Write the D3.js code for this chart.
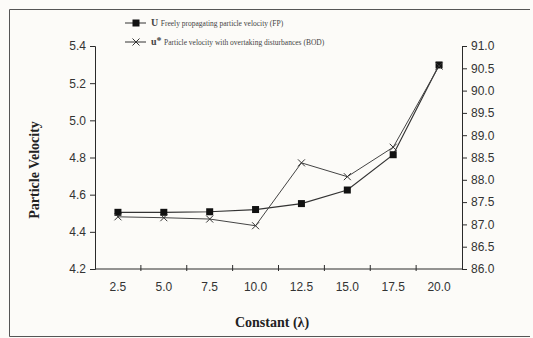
<!DOCTYPE html>
<html>
<head>
<meta charset="utf-8">
<script src="https://cdn.jsdelivr.net/npm/d3@7"></script>
<style>
  body { margin: 0; background: #fcfbf8; }
  svg { display: block; }
</style>
</head>
<body>
<div id="chart"></div>
<script>
// chart values
const lambdas = ["2.5", "5.0", "7.5", "10.0", "12.5", "15.0", "17.5", "20.0"];
const fpValues = [4.505, 4.505, 4.508, 4.52, 4.552, 4.625, 4.815, 5.298];
const bodValues = [87.17, 87.15, 87.12, 86.97, 88.38, 88.07, 88.73, 90.55];
const leftTicks = [4.2, 4.4, 4.6, 4.8, 5.0, 5.2, 5.4];
const rightTicks = [86.0, 86.5, 87.0, 87.5, 88.0, 88.5, 89.0, 89.5, 90.0, 90.5, 91.0];

const W = 533, H = 338;
const plot = { left: 95, right: 462, top: 46, bottom: 269 };
const ink = "#2a2a2a";

const svg = d3.select("#chart").append("svg")
  .attr("width", W).attr("height", H);

svg.append("rect").attr("width", W).attr("height", H).attr("fill", "#fcfbf8");

// outer frame (left, top, bottom edges only visible)
svg.append("path")
  .attr("d", "M530,9.5 H9.5 V336.5 H530")
  .attr("fill", "none").attr("stroke", "#555").attr("stroke-width", 1);

const x = d3.scaleBand().domain(lambdas).range([plot.left, plot.right]);
const yL = d3.scaleLinear().domain([4.2, 5.4]).range([plot.bottom, plot.top]);
const yR = d3.scaleLinear().domain([86, 91]).range([plot.bottom, plot.top]);

// left axis
const gl = svg.append("g").attr("transform", `translate(${plot.left},0)`)
  .call(d3.axisLeft(yL).tickValues(leftTicks).tickFormat(d3.format(".1f")).tickSizeOuter(0).tickSize(5).tickPadding(4));

// right axis
const gr = svg.append("g").attr("transform", `translate(${plot.right},0)`)
  .call(d3.axisRight(yR).tickValues(rightTicks).tickFormat(d3.format(".1f")).tickSizeOuter(0).tickSize(5).tickPadding(4));

// bottom axis, ticks at band boundaries
const gb = svg.append("g").attr("transform", `translate(0,${plot.bottom})`)
  .call(d3.axisBottom(x).tickSize(0).tickPadding(13));
gb.select(".domain").remove();
gb.append("line").attr("x1", plot.left).attr("x2", plot.right)
  .attr("stroke", ink);
gb.selectAll(".bticks").data(lambdas.slice(1)).enter().append("line")
  .attr("x1", d => x(d)).attr("x2", d => x(d))
  .attr("y1", -4).attr("y2", 2)
  .attr("stroke", ink);

[gl, gr, gb].forEach(g => {
  g.selectAll(".domain, line").attr("stroke", ink);
  g.selectAll("text")
    .attr("fill", "#333")
    .style("font-family", "'Liberation Sans', Arial, sans-serif")
    .style("font-size", "12px");
});

// FP line (left axis)
const lineL = d3.line().x((d, i) => x(lambdas[i]) + x.bandwidth() / 2).y(d => yL(d));
svg.append("path").datum(fpValues).attr("d", lineL)
  .attr("fill", "none").attr("stroke", "#333").attr("stroke-width", 1.2);

// BOD line (right axis)
const lineR = d3.line().x((d, i) => x(lambdas[i]) + x.bandwidth() / 2).y(d => yR(d));
svg.append("path").datum(bodValues).attr("d", lineR)
  .attr("fill", "none").attr("stroke", "#444").attr("stroke-width", 1);

svg.selectAll(".sq").data(fpValues).enter().append("rect")
  .attr("x", (d, i) => x(lambdas[i]) + x.bandwidth() / 2 - 3.5)
  .attr("y", d => yL(d) - 3.5)
  .attr("width", 7).attr("height", 7).attr("fill", "#111");

const cross = (cx, cy, s) => `M${cx - s},${cy - s}L${cx + s},${cy + s}M${cx - s},${cy + s}L${cx + s},${cy - s}`;
svg.selectAll(".xm").data(bodValues).enter().append("path")
  .attr("d", (d, i) => cross(x(lambdas[i]) + x.bandwidth() / 2, yR(d), 3.5))
  .attr("stroke", "#333").attr("stroke-width", 1).attr("fill", "none");

// axis titles
svg.append("text")
  .attr("x", 272).attr("y", 327)
  .attr("text-anchor", "middle")
  .style("font-family", "'Liberation Serif', 'Times New Roman', serif")
  .style("font-weight", "bold").style("font-size", "14px")
  .attr("fill", "#222")
  .text("Constant (λ)");

svg.append("text")
  .attr("transform", "translate(39,170) rotate(-90)")
  .attr("text-anchor", "middle")
  .style("font-family", "'Liberation Serif', 'Times New Roman', serif")
  .style("font-weight", "bold").style("font-size", "14px")
  .attr("fill", "#222")
  .text("Particle Velocity");

// legend
const leg = svg.append("g").style("font-family", "'Liberation Serif', 'Times New Roman', serif");
const ly1 = 23, ly2 = 42;
leg.append("line").attr("x1", 125).attr("x2", 146).attr("y1", ly1).attr("y2", ly1).attr("stroke", "#333");
leg.append("rect").attr("x", 132.5).attr("y", ly1 - 3.5).attr("width", 7).attr("height", 7).attr("fill", "#111");
leg.append("line").attr("x1", 125).attr("x2", 146).attr("y1", ly2).attr("y2", ly2).attr("stroke", "#333");
leg.append("path").attr("d", cross(136, ly2, 3.5)).attr("stroke", "#333").attr("fill", "none");

const t1 = leg.append("text").attr("x", 151).attr("y", ly1 + 3).attr("fill", "#444").style("font-size", "7.5px");
t1.append("tspan").style("font-size", "10px").style("font-weight", "bold").text("U ");
t1.append("tspan").text("Freely propagating particle velocity (FP)");

const t2 = leg.append("text").attr("x", 151).attr("y", ly2 + 3).attr("fill", "#444").style("font-size", "7.5px");
t2.append("tspan").style("font-size", "10px").style("font-weight", "bold").text("u");
t2.append("tspan").style("font-size", "10px").style("font-weight", "bold").attr("dy", -1).text("* ");
t2.append("tspan").attr("dy", 1).text("Particle velocity with overtaking disturbances (BOD)");
</script>
</body>
</html>
